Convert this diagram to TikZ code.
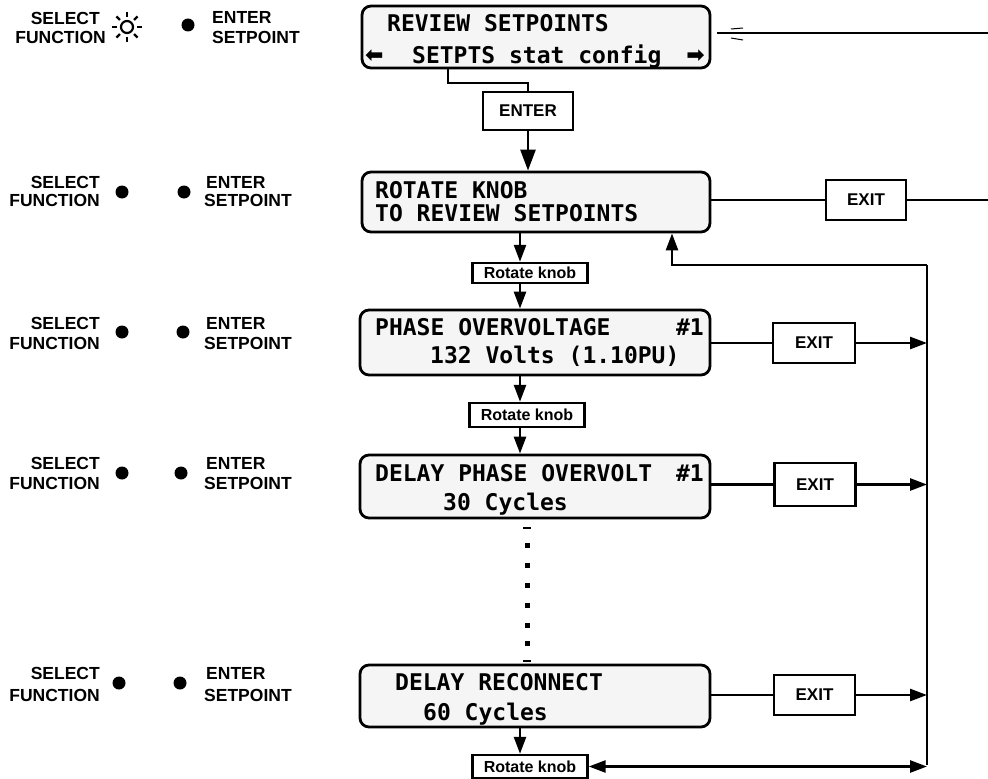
\documentclass[tikz,border=0pt]{standalone}
\usepackage{fontspec}
\setmainfont{Liberation Sans}
\newfontfamily\lcd{DejaVu Sans Mono}
\newfontfamily\arrowfont{DejaVu Sans}
\usetikzlibrary{arrows.meta}
\begin{document}
\begin{tikzpicture}[x=1bp,y=-1bp,
  lcdbox/.style={draw, line width=2.8bp, rounded corners=9bp, fill=black!4, inner sep=0},
  lcdtxt/.style={font=\lcd\fontsize{23bp}{26bp}\bfseries\selectfont, inner sep=0, anchor=base west},
  arrtxt/.style={font=\arrowfont\fontsize{22bp}{24bp}\bfseries\selectfont, inner sep=0, anchor=base west},
  lbl/.style={font=\fontsize{17.5bp}{20bp}\bfseries\selectfont, inner sep=0},
  keybox/.style={draw, line width=2.3bp, font=\fontsize{17bp}{18bp}\bfseries\selectfont, inner sep=0},
  knobbox/.style={draw, line width=2.4bp, font=\fontsize{16bp}{17bp}\bfseries\selectfont, inner sep=0, minimum width=115bp},
  conn/.style={line width=2.6bp},
  arr/.style={conn, -{Triangle[length=17bp,width=12bp]}},
  bigarr/.style={conn, -{Triangle[length=21bp,width=15bp]}},
  led/.style={circle, fill=black, inner sep=0, minimum size=13bp}
]
\useasboundingbox (0,0) rectangle (988,779);

% ---------- left indicator labels ----------
% row 1
\node[lbl, anchor=east] (s1) at (100,18) {SELECT};
\node[lbl, anchor=east] (f1) at (106,37) {FUNCTION};
\coordinate (sun) at (127,27);
\draw[line width=2.2bp] (sun) circle (6bp);
\foreach \a in {0,45,...,315} \draw[line width=2.4bp, shift={(sun)}] (\a:10) -- (\a:15);
\node[led] (d1) at (188,25) {};
\node[lbl, anchor=west] (e1) at (212,17) {ENTER};
\node[lbl, anchor=west] (p1) at (212,37) {SETPOINT};
% rows 2-5
\foreach \n/\ys/\yd/\yf/\xa/\xb in {2/182/192/200/122/184, 3/323/332/343/122/183, 4/463/473/483/122/181, 5/673/683/695/119/180}{
  \node[lbl, anchor=east] (s\n) at (100,\ys) {SELECT};
  \node[lbl, anchor=east] (f\n) at (100,\yf) {FUNCTION};
  \node[led] (da\n) at (\xa,\yd) {};
  \node[led] (db\n) at (\xb,\yd) {};
  \node[lbl, anchor=west] (e\n) at (206,\ys) {ENTER};
  \node[lbl, anchor=west] (p\n) at (204,\yf) {SETPOINT};
}

% ---------- display boxes ----------
\node[lcdbox, minimum width=348bp, minimum height=62bp] (b1) at (536,37) {};
\node[lcdtxt] (b1a) at (387,31.4) {REVIEW SETPOINTS};
\node[arrtxt] (b1l) at (365,63) {⬅};
\node[lcdtxt] (b1b) at (412,63.4) {SETPTS stat config};
\node[arrtxt, anchor=base east] (b1r) at (705,63) {➡};

\node[lcdbox, minimum width=348bp, minimum height=60bp] (rot) at (536,202) {};
\node[lcdtxt] (rota) at (375,198.4) {ROTATE KNOB};
\node[lcdtxt] (rotb) at (375,221.4) {TO REVIEW SETPOINTS};

\node[lcdbox, minimum width=350bp, minimum height=65bp] (ph) at (535,342.5) {};
\node[lcdtxt] (pha) at (375,335.4) {PHASE OVERVOLTAGE};
\node[lcdtxt, anchor=base east] (phn) at (704,335.4) {\#1};
\node[lcdtxt] (phb) at (430,363.4) {132 Volts (1.10PU)};

\node[lcdbox, minimum width=350bp, minimum height=63bp] (dl) at (535,486.5) {};
\node[lcdtxt] (dla) at (375,481.4) {DELAY PHASE OVERVOLT};
\node[lcdtxt, anchor=base east] (dln) at (704,481.4) {\#1};
\node[lcdtxt] (dlb) at (443,510.4) {30 Cycles};

\node[lcdbox, minimum width=350bp, minimum height=62bp] (dr) at (535,696) {};
\node[lcdtxt] (dra) at (395,690.4) {DELAY RECONNECT};
\node[lcdtxt] (drb) at (423,720.4) {60 Cycles};

% ---------- key boxes ----------
\node[keybox, minimum width=90bp, minimum height=38bp] (ent) at (528,111) {ENTER};
\node[keybox, minimum width=80bp, minimum height=40bp] (ex2) at (866,200) {EXIT};
\node[keybox, minimum width=82bp, minimum height=40bp] (ex3) at (814,343) {EXIT};
\node[keybox, minimum width=81bp, minimum height=43bp] (ex4) at (815,484.5) {EXIT};
\node[keybox, minimum width=81bp, minimum height=40bp] (ex5) at (814.5,695) {EXIT};

\node[knobbox, minimum height=20bp] (rk1) at (530,273) {Rotate knob};
\node[knobbox, minimum height=24bp] (rk2) at (527,415) {Rotate knob};
\node[knobbox, minimum height=23bp] (rk3) at (530,766.5) {Rotate knob};

% ---------- helper coordinates ----------
\coordinate (c1) at (448,83);
\coordinate (ax) at (520,0);
\coordinate (vx) at (927,0);
\coordinate (vt) at (927,265);
\coordinate (vb) at (927,765);
\coordinate (fb) at (672,265);
\coordinate (r1) at (988,33);
\coordinate (r2) at (988,200);

% ---------- connectors ----------
\draw[conn] (b1.south -| c1) -- (c1) -- (c1 -| ent.north) -- (ent.north);
\draw[bigarr] (ent.south) -- (rot.north -| ent.south);
\draw[conn] (b1.east |- r1) ++(6,0) -- (r1);
\draw[line width=1bp] (731,29) -- (743,28) (731,38) -- (743,40);

\draw[conn] (ex2.west -| rot.east) -- (ex2.west);
\draw[conn] (ex2.east) -- (r2);

\draw[arr] (rot.south -| ax) -- (rk1.north -| ax);
\draw[arr] (rk1.south -| ax) -- (ph.north -| ax);
\draw[arr] (ph.south -| ax) -- (rk2.north -| ax);
\draw[arr] (rk2.south -| ax) -- (dl.north -| ax);
\draw[arr] (dr.south -| ax) -- (rk3.north -| ax);

\draw[conn] (ex3.west -| ph.east) -- (ex3.west);
\draw[arr] (ex3.east) -- (ex3.east -| vx);
\draw[conn] (ex4.west -| dl.east) -- (ex4.west);
\draw[arr] (ex4.east) -- (ex4.east -| vx);
\draw[conn] (ex5.west -| dr.east) -- (ex5.west);
\draw[arr] (ex5.east) -- (ex5.east -| vx);

\draw[line width=2.8bp] (vt) -- (vb);
\draw[arr] (vt) -- (fb) -- (rot.south -| fb);
\draw[conn, {Triangle[length=17bp,width=12bp]}-{Triangle[length=17bp,width=12bp]}] (rk3.east) -- (rk3.east -| vx);

% continuation dots
\fill (523,526.5) rectangle (531,529);
\foreach \y in {545,565,585,605,625,643} \fill (524.5,\y-2.5) rectangle (529.5,\y+2.5);
\fill (523,659.5) rectangle (531,662);
\end{tikzpicture}
\end{document}
